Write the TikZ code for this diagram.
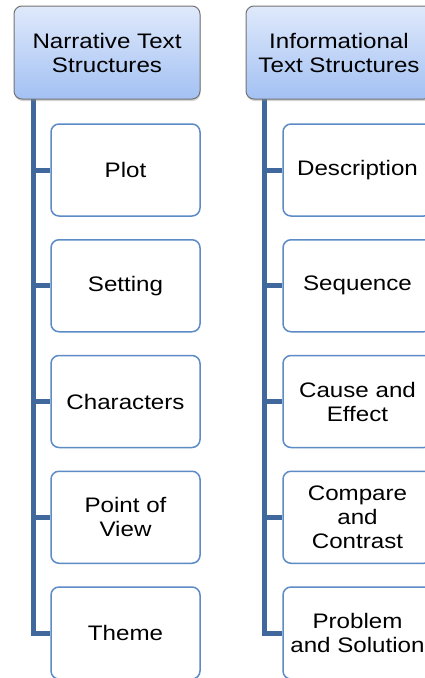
\documentclass[tikz,border=0pt]{standalone}
\usepackage{fontspec}
\setmainfont{Liberation Sans}[FakeStretch=1.15]
\usepackage{tikz}
\usetikzlibrary{positioning,shadows}
\definecolor{trunkblue}{RGB}{65,104,156}
\definecolor{boxblue}{RGB}{92,139,198}
\definecolor{headtop}{RGB}{223,233,251}
\definecolor{headbot}{RGB}{163,193,243}
\tikzstyle{header}=[draw=black!55, line width=1pt, rounded corners=8pt, top color=headtop, bottom color=headbot,
    minimum width=186pt, minimum height=93pt, align=center, inner sep=0pt,
    drop shadow={opacity=0.35, shadow xshift=0.5pt, shadow yshift=-2pt}]
\tikzstyle{item}=[draw=boxblue, line width=1.5pt, fill=white, rounded corners=8pt,
    minimum width=149pt, minimum height=92pt, align=center, inner sep=0pt]
\tikzstyle{trunk}=[draw=trunkblue, line width=5pt]

\begin{document}
\begin{tikzpicture}[x=1pt, y=-1pt, node font=\fontsize{21}{24}\selectfont]

\useasboundingbox (0,0) rectangle (424,678);

% narrative
\foreach \lab [count=\i] in {Plot,Setting,Characters,{Point of\\View},Theme}
    \node[item] (narr\i) at (125.5,{170+115.75*(\i-1)}) {\lab};
\coordinate (narrtop) at (33,99);
\draw[trunk] (narrtop) |- (narr5.west);
\foreach \i in {1,...,4}
    \draw[trunk] (narrtop |- narr\i.west) -- (narr\i.west);
\node[header] (narr) at (107,52.5) {Narrative Text\\Structures};

% informational
\foreach \lab [count=\i] in {Description,Sequence,{Cause and\\Effect},{Compare\\and\\Contrast},{Problem\\and Solution}}
    \node[item] (info\i) at (357.5,{170+115.75*(\i-1)}) {\lab};
\coordinate (infotop) at (264.5,99);
\draw[trunk] (infotop) |- (info5.west);
\foreach \i in {1,...,4}
    \draw[trunk] (infotop |- info\i.west) -- (info\i.west);
\node[header] (info) at (339,52.5) {Informational\\Text Structures};

\end{tikzpicture}
\end{document}
